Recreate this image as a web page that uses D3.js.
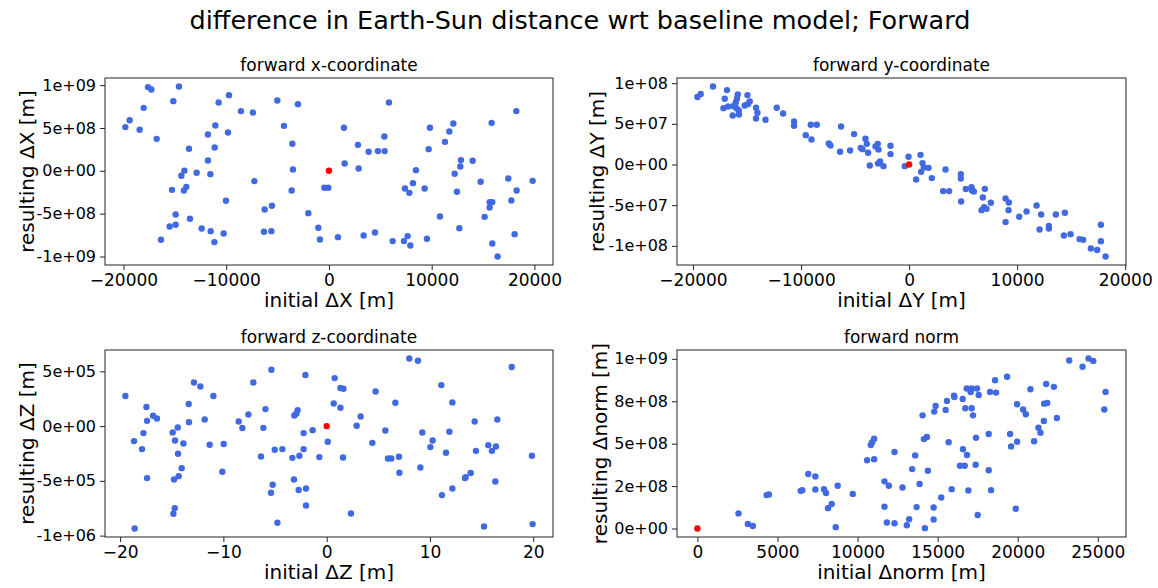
<!DOCTYPE html>
<html lang="en">
<head>
<meta charset="UTF-8">
<title>difference in Earth-Sun distance wrt baseline model; Forward</title>
<script src="https://d3js.org/d3.v7.min.js"></script>
<style>
  body { margin: 0; background: #fff; font-family: "DejaVu Sans", sans-serif; }
  .frame { fill: none; stroke: #222; stroke-width: 1; }
  .tick line { stroke: #222; }
  .tick text { font-size: 16px; fill: #000; font-family: "DejaVu Sans", sans-serif; }
  .x-axis .tick text { font-size: 17px; }
  .sup-title { font-size: 25.5px; text-anchor: middle; }
  .ax-title { font-size: 17px; text-anchor: middle; }
  .ax-label { font-size: 20px; text-anchor: middle; }
</style>
</head>
<body>
<svg id="chart" width="1158" height="588"></svg>
<script>
// [initial, resulting] pairs, one array per panel
const pointsX = [
  [-19815, 5.1e8], [-19397, 5.9e8], [-18423, 4.8e8], [-18034, 7.35e8], [-17614, 9.77e8], [-17286, 9.49e8],
  [-16769, 3.73e8], [-16350, -8.05e8], [-15503, -6.5e8], [-15279, -2.22e8], [-15146, 8.13e8], [-14920, -6.3e8],
  [-14920, -5.1e8], [-14598, 9.84e8], [-14365, -0.58e8], [-14073, 0.02e8], [-14112, -2.3e8], [-13878, -1.87e8],
  [-13624, 2.57e8], [-13528, -5.6e8], [-12876, -0.23e8], [-12389, -6.73e8], [-11776, 1.2e8], [-11776, 4.24e8],
  [-11543, -0.39e8], [-11513, -7.04e8], [-11153, -8.32e8], [-11124, 2.72e8], [-11056, 5.29e8], [-10735, 7.97e8],
  [-10248, -7.32e8], [-10024, -3.5e8], [-9829, 4.47e8], [-9732, 8.83e8], [-8564, 6.97e8], [-7397, 6.8e8],
  [-7261, -1.2e8], [-6258, -4.52e8], [-6326, -7.12e8], [-5606, -7.04e8], [-5547, -4.08e8], [-5026, 8.2e8],
  [-4380, 5.25e8], [-3562, 3.15e8], [-3504, 0.15e8], [-3630, -2.3e8], [-3017, 7.78e8], [-2005, -4.94e8],
  [-1031, -6.65e8], [-876, -8.02e8], [-448, -1.98e8], [-58, -1.98e8],
  [876, -7.74e8], [1460, 5.02e8], [1528, 0.85e8], [2822, 3.03e8], [2891, 0.27e8], [3377, -7.55e8],
  [3864, 2.22e8], [4477, -7.2e8], [4769, 2.3e8], [5392, 4.0e8], [5421, 2.3e8], [5840, 7.97e8],
  [6200, -8.2e8], [7300, -8.2e8], [7660, -7.62e8], [7922, -8.72e8], [7397, -2.07e8], [7825, -2.57e8],
  [8175, -1.44e8], [8467, 0.08e8], [9314, -2.07e8], [9538, -7.93e8], [9703, 2.53e8], [9830, 5.02e8],
  [10803, -5.33e8], [11290, 3.38e8], [11718, 4.59e8], [12107, 5.52e8], [12234, -0.35e8], [12457, -2.45e8],
  [12691, -6.69e8], [12788, 0.5e8], [12847, 1.25e8], [13985, 1.17e8], [14764, -1.28e8], [15153, -5.37e8],
  [15640, -4.28e8], [15640, -3.65e8], [15900, -3.65e8], [15835, 5.6e8], [15903, -8.48e8], [16419, -10.0e8],
  [17460, -0.9e8], [17752, -3.47e8], [18073, -7.39e8], [18238, 6.97e8], [18267, -2.3e8], [19825, -1.17e8]
];

const pointsY = [
  [-19593, 8.29e7], [-19287, 8.66e7], [-18148, 9.59e7], [-16852, 9.15e7], [-17065, 8.08e7], [-17185, 6.93e7],
  [-16759, 7.13e7], [-16296, 7.18e7], [-16324, 6.03e7], [-16046, 7.62e7], [-15926, 8.11e7], [-15861, 8.61e7],
  [-15981, 6.93e7], [-15769, 6.64e7], [-15741, 6.15e7], [-15213, 7.25e7], [-14907, 7.43e7], [-14750, 7.75e7],
  [-14963, 8.53e7], [-14167, 6.97e7], [-14037, 6.36e7], [-14167, 5.66e7], [-13296, 5.5e7], [-12250, 6.97e7],
  [-11667, 6.27e7], [-10648, 5.29e7], [-10648, 4.76e7], [-9565, 3.61e7], [-9037, 3.07e7], [-9102, 4.88e7],
  [-8546, 4.88e7], [-7435, 2.58e7], [-7278, 2.34e7], [-6389, 1.56e7], [-6296, 4.67e7], [-5463, 1.72e7],
  [-5093, 3.74e7], [-4472, 2.05e7], [-4315, 1.89e7], [-4037, 3.16e7], [-3917, 2.54e7], [-3796, 1.44e7],
  [-3639, -0.12e7], [-3111, 2.21e7], [-2898, 2.54e7], [-2833, 1.84e7], [-2870, 0.12e7], [-2685, 0.37e7],
  [-2370, -0.2e7], [-1722, 2.3e7], [-1722, 1.28e7], [-398, -0.2e7], [-56, 0.95e7],
  [648, -1.84e7], [1056, 1.19e7], [1241, 0.17e7], [1361, -0.37e7], [1111, -0.9e7], [1796, -0.41e7],
  [2102, -1.67e7], [3370, -0.61e7], [3148, -3.27e7], [3704, -3.27e7], [4787, -1.18e7], [4787, -1.72e7],
  [4815, -4.55e7], [5250, -3.02e7], [5778, -2.78e7], [5833, -3.2e7], [5991, -3.32e7], [7009, -2.99e7],
  [6824, -4.06e7], [6944, -5.24e7], [6704, -5.61e7], [7167, -5.45e7], [7565, -4.71e7], [8926, -4.18e7],
  [9231, -4.67e7], [9204, -5.61e7], [8926, -7.08e7], [10185, -6.43e7], [10870, -5.78e7], [11796, -5.04e7],
  [12222, -6.15e7], [12074, -7.99e7], [12935, -7.54e7], [12935, -7.87e7], [13583, -6.15e7], [14417, -5.94e7],
  [14324, -8.73e7], [14944, -8.56e7], [15778, -9.17e7], [16111, -9.26e7], [16824, -10.33e7], [17407, -10.52e7],
  [17750, -7.41e7], [17750, -9.42e7], [18185, -11.31e7]
];

const pointsZ = [
  [-19.49, 2.74e5], [-18.65, -1.37e5], [-18.59, -9.35e5], [-17.88, -2.1e5], [-17.74, -0.64e5], [-17.45, 1.74e5],
  [-17.39, 0.48e5], [-17.39, -4.75e5], [-16.81, 0.94e5], [-16.43, 0.69e5], [-14.91, -0.58e5], [-14.84, -8.01e5],
  [-14.78, -4.88e5], [-14.71, -7.49e5], [-14.68, -1.31e5], [-14.42, -0.13e5], [-14.39, -2.53e5], [-14.33, -4.57e5],
  [-14.04, -3.84e5], [-13.87, -1.59e5], [-13.36, 2.01e5], [-13.33, 0.36e5], [-12.85, 3.98e5], [-12.23, 3.62e5],
  [-11.81, 0.6e5], [-11.33, -1.71e5], [-10.97, 2.74e5], [-10.1, -4.17e5], [-9.97, -1.64e5], [-8.52, 0.42e5],
  [-8.16, -0.18e5], [-7.58, 1.06e5], [-7.1, 3.98e5], [-6.36, -2.78e5], [-6.13, -0.16e5], [-5.93, 1.55e5],
  [-5.39, -6.09e5], [-5.35, 5.14e5], [-5.23, -5.36e5], [-5.03, -2.16e5], [-4.77, -8.83e5], [-4.29, -2.1e5],
  [-3.32, -2.9e5], [-3.17, -4.88e5], [-3.13, 0.97e5], [-2.93, 1.15e5], [-2.81, 1.46e5], [-2.71, -5.84e5],
  [-2.64, -2.71e5], [-2.23, -0.64e5], [-2.23, -2.1e5], [-2.06, 4.66e5], [-2.0, -5.7e5], [-2.0, -7.25e5],
  [-1.36, -0.37e5], [-0.71, -2.83e5], [0.1, -1.43e5],
  [0.68, 2.06e5], [0.77, 4.38e5], [1.33, 3.47e5], [1.62, 3.41e5], [1.33, 1.67e5], [1.58, -2.87e5],
  [2.35, -7.98e5], [2.9, 0.03e5], [3.29, 0.88e5], [4.42, -1.53e5], [4.74, 3.16e5], [5.68, -0.4e5],
  [5.93, -2.96e5], [6.26, -2.96e5], [6.65, 2.13e5], [7.0, -2.8e5], [7.04, -4.26e5], [8.0, 6.17e5],
  [8.84, 5.96e5], [9.07, -3.78e5], [9.26, -0.58e5], [10.04, -1.92e5], [10.26, -1.31e5], [11.1, 3.74e5],
  [11.16, -6.3e5], [11.55, -2.44e5], [11.88, -0.52e5], [12.17, 2.16e5], [12.17, -5.7e5], [13.39, -4.75e5],
  [13.45, -4.66e5], [13.94, -4.29e5], [14.33, 0.42e5], [14.45, -2.26e5], [15.23, -9.17e5], [15.65, -1.74e5],
  [16.0, -2.26e5], [16.33, -5.06e5], [16.39, -1.86e5], [16.52, 0.6e5], [17.91, 5.39e5], [19.87, -2.71e5],
  [19.94, -8.95e5]
];

const pointsNorm = [
  [2566, 0.89e8], [3150, 0.27e8], [3463, 0.15e8], [4318, 1.97e8], [4463, 2.0e8], [6446, 2.22e8],
  [6550, 2.26e8], [6925, 3.21e8], [7365, 3.07e8], [7365, 2.3e8], [7906, 2.32e8], [8031, 2.09e8],
  [8156, 1.2e8], [8385, 1.44e8], [8636, 0.08e8], [8761, 2.52e8], [9700, 2.04e8], [10597, 4.02e8],
  [10826, 4.92e8], [10910, 5.08e8], [11035, 5.29e8], [11035, 4.08e8], [11681, 2.78e8], [11952, 2.52e8],
  [11681, 1.28e8], [11827, 0.35e8], [12307, 4.51e8], [12307, 0.31e8], [12807, 2.42e8], [13079, 0.19e8],
  [13224, 0.55e8], [13410, 3.5e8],
  [13598, 4.31e8], [13686, 1.26e8], [13874, 2.63e8], [14061, 6.67e8], [14143, 5.27e8], [14331, 5.39e8],
  [14205, 0.02e8], [14393, 3.4e8], [14750, 1.24e8], [14750, 0.53e8], [14787, 6.89e8], [14875, 7.22e8],
  [15225, 1.83e8], [15501, 6.99e8], [15582, 7.52e8], [15688, 5.08e8], [15876, 2.32e8], [16020, 7.83e8],
  [16045, 7.75e8], [16396, 3.7e8], [16565, 7.64e8], [16583, 4.67e8], [16690, 3.7e8], [16729, 7.09e8],
  [16815, 8.25e8], [16833, 4.33e8], [16917, 2.24e8], [17063, 8.05e8], [17126, 8.25e8], [17126, 7.09e8],
  [17209, 6.67e8], [17376, 3.76e8], [17397, 5.35e8], [17459, 8.25e8], [17501, 0.8e8], [17564, 7.87e8],
  [18190, 5.57e8], [18190, 3.43e8], [18273, 8.05e8], [18335, 2.26e8], [18586, 8.74e8], [18648, 8.01e8],
  [19337, 8.94e8], [19524, 5.57e8], [19587, 4.84e8], [19881, 1.16e8], [19962, 7.32e8], [19962, 5.12e8],
  [20338, 7.01e8], [20507, 6.73e8], [20795, 8.21e8], [21026, 5.14e8], [21296, 5.94e8], [21421, 5.65e8],
  [21634, 6.34e8], [21652, 7.36e8], [21840, 7.4e8], [21777, 8.52e8], [22259, 8.35e8], [22447, 6.51e8],
  [23217, 9.9e8], [24048, 9.53e8], [24424, 10.02e8], [24718, 9.88e8], [25407, 7.01e8], [25488, 8.05e8]
];

// baseline model itself (drawn red)
const baseline = [0, 0];

// tick values and labels
const xTicksXY = [-20000, -10000, 0, 10000, 20000];
const xLabelsXY = ["\u221220000", "\u221210000", "0", "10000", "20000"];
const xTicksZ = [-20, -10, 0, 10, 20];
const xLabelsZ = ["\u221220", "\u221210", "0", "10", "20"];
const xTicksNorm = [0, 5000, 10000, 15000, 20000, 25000];
const xLabelsNorm = ["0", "5000", "10000", "15000", "20000", "25000"];
const yTicksX = [1e9, 5e8, 0, -5e8, -1e9];
const yLabelsX = ["1e+09", "5e+08", "0e+00", "-5e+08", "-1e+09"];
const yTicksY = [1e8, 5e7, 0, -5e7, -1e8];
const yLabelsY = ["1e+08", "5e+07", "0e+00", "-5e+07", "-1e+08"];
const yTicksZ = [5e5, 0, -5e5, -1e6];
const yLabelsZ = ["5e+05", "0e+00", "-5e+05", "-1e+06"];
const yTicksNorm = [1e9, 7.5e8, 5e8, 2.5e8, 0];
const yLabelsNorm = ["1e+09", "8e+08", "5e+08", "2e+08", "0e+00"];

const panels = [
  { pts: pointsX, title: "forward x-coordinate", xl: "initial \u0394X [m]", yl: "resulting \u0394X [m]",
    xt: xTicksXY, xtl: xLabelsXY, yt: yTicksX, ytl: yLabelsX, left: 105, right: 553, top: 78, bottom: 265, ylx: 27 },
  { pts: pointsY, title: "forward y-coordinate", xl: "initial \u0394Y [m]", yl: "resulting \u0394Y [m]",
    xt: xTicksXY, xtl: xLabelsXY, yt: yTicksY, ytl: yLabelsY, left: 677, right: 1126, top: 78, bottom: 265, ylx: 597 },
  { pts: pointsZ, title: "forward z-coordinate", xl: "initial \u0394Z [m]", yl: "resulting \u0394Z [m]",
    xt: xTicksZ, xtl: xLabelsZ, yt: yTicksZ, ytl: yLabelsZ, left: 105, right: 553, top: 350, bottom: 537, ylx: 27 },
  { pts: pointsNorm, title: "forward norm", xl: "initial \u0394norm [m]", yl: "resulting \u0394norm [m]",
    xt: xTicksNorm, xtl: xLabelsNorm, yt: yTicksNorm, ytl: yLabelsNorm, left: 677, right: 1126, top: 350, bottom: 537, ylx: 600 }
];

const svg = d3.select("#chart");

svg.append("text")
  .attr("class", "sup-title")
  .attr("x", 580)
  .attr("y", 29)
  .text("difference in Earth-Sun distance wrt baseline model; Forward");

// matplotlib style 5% margin around data
function padded(ext) {
  var m = (ext[1] - ext[0]) * 0.05;
  return [ext[0] - m, ext[1] + m];
}

panels.forEach(function(p) {
  var all = p.pts.concat([baseline]);
  var x = d3.scaleLinear()
    .domain(padded(d3.extent(all, d => d[0])))
    .range([p.left, p.right]);
  var y = d3.scaleLinear()
    .domain(padded(d3.extent(all, d => d[1])))
    .range([p.bottom, p.top]);

  var g = svg.append("g");

  g.append("g")
    .attr("class", "x-axis")
    .attr("transform", "translate(0," + p.bottom + ")")
    .call(d3.axisBottom(x).tickValues(p.xt).tickFormat((d, i) => p.xtl[i]).tickSize(5).tickPadding(4))
    .call(a => a.select(".domain").remove());

  g.append("g")
    .attr("class", "y-axis")
    .attr("transform", "translate(" + p.left + ",0)")
    .call(d3.axisLeft(y).tickValues(p.yt).tickFormat((d, i) => p.ytl[i]).tickSize(5).tickPadding(4))
    .call(a => a.select(".domain").remove());

  g.selectAll(".dot")
    .data(p.pts)
    .enter().append("circle")
    .attr("class", "dot")
    .attr("cx", d => x(d[0]))
    .attr("cy", d => y(d[1]))
    .attr("r", 3.2)
    .attr("fill", "royalblue");

  g.append("circle")
    .attr("cx", x(baseline[0]))
    .attr("cy", y(baseline[1]))
    .attr("r", 3.2)
    .attr("fill", "red");

  g.append("rect")
    .attr("class", "frame")
    .attr("x", p.left)
    .attr("y", p.top)
    .attr("width", p.right - p.left)
    .attr("height", p.bottom - p.top);

  var cx = (p.left + p.right) / 2;
  g.append("text")
    .attr("class", "ax-title")
    .attr("x", cx)
    .attr("y", p.top - 7)
    .text(p.title);

  g.append("text")
    .attr("class", "ax-label")
    .attr("x", cx)
    .attr("y", p.bottom + 42)
    .text(p.xl);

  g.append("text")
    .attr("class", "ax-label")
    .attr("transform", "translate(" + p.ylx + "," + ((p.top + p.bottom) / 2) + ") rotate(-90)")
    .attr("dominant-baseline", "central")
    .text(p.yl);
});
</script>
</body>
</html>
